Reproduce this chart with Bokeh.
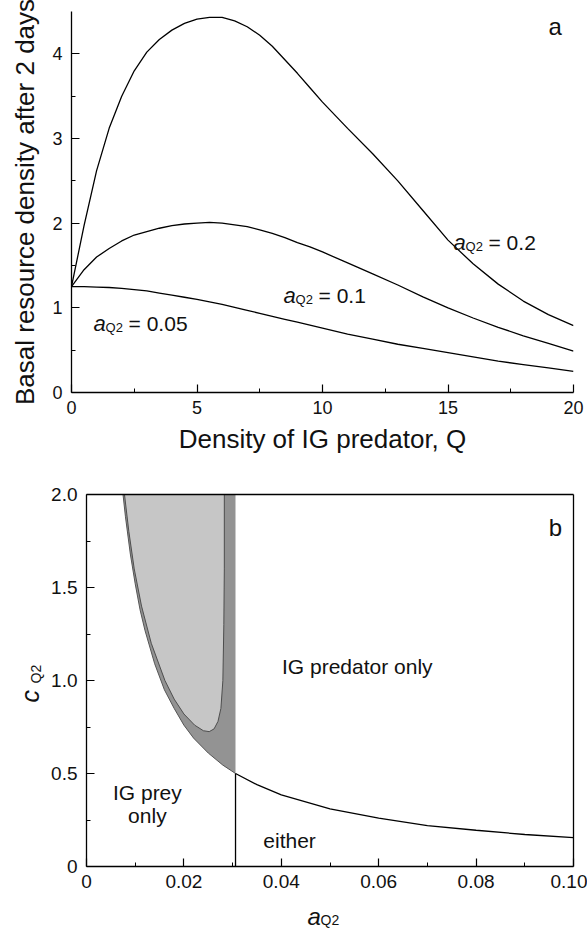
from bokeh.plotting import figure
from bokeh.models import Range1d, FixedTicker, Label, LinearAxis
from bokeh.embed import file_html
from bokeh.resources import INLINE
import math

FONT = "Liberation Sans"
INK = "#111111"

# ---------------- Panel a data ----------------
Q = [0, 0.5, 1, 1.5, 2, 2.5, 3, 3.5, 4, 4.5, 5, 5.5, 6, 6.5, 7, 7.5, 8, 8.5, 9, 9.5, 10,
     11, 12, 13, 14, 15, 16, 17, 18, 19, 20]
R_aQ2_020 = [1.25, 1.97, 2.62, 3.12, 3.5, 3.8, 4.02, 4.17, 4.28, 4.36, 4.41, 4.43, 4.43, 4.39, 4.32, 4.22, 4.09, 3.93, 3.77, 3.6, 3.43,
             3.12, 2.82, 2.5, 2.15, 1.8, 1.52, 1.28, 1.08, 0.92, 0.79]
R_aQ2_010 = [1.25, 1.45, 1.6, 1.7, 1.79, 1.86, 1.9, 1.94, 1.97, 1.99, 2.0, 2.01, 2.0, 1.98, 1.96, 1.92, 1.88, 1.83, 1.77, 1.72, 1.66,
             1.53, 1.4, 1.27, 1.13, 1.0, 0.88, 0.77, 0.67, 0.58, 0.49]
R_aQ2_005 = [1.25, 1.25, 1.245, 1.24, 1.23, 1.215, 1.2, 1.175, 1.15, 1.125, 1.1, 1.07, 1.04, 1.005, 0.97, 0.935, 0.9, 0.865, 0.83, 0.795, 0.76,
             0.69, 0.63, 0.57, 0.52, 0.47, 0.42, 0.37, 0.33, 0.29, 0.25]
a_xticks = [0, 5, 10, 15, 20]
a_xminor = [2.5, 7.5, 12.5, 17.5]
a_yticks = [0, 1, 2, 3, 4]
a_yminor = [0.5, 1.5, 2.5, 3.5]

# ---------------- Panel b data ----------------
a_bnd = [0.0075, 0.008, 0.009, 0.010, 0.011, 0.012, 0.014, 0.016, 0.018, 0.020, 0.022, 0.025, 0.028, 0.0306,
         0.035, 0.04, 0.05, 0.06, 0.07, 0.08, 0.09, 0.10]
c_bnd = [2.0, 1.88, 1.68, 1.52, 1.38, 1.27, 1.09, 0.95, 0.85, 0.76, 0.69, 0.61, 0.545, 0.5,
         0.44, 0.385, 0.31, 0.26, 0.22, 0.195, 0.172, 0.155]
a_switch = 0.0306
c_top = 2.0
light_a = [0.0078, 0.0087, 0.0098, 0.0113, 0.0133, 0.0161, 0.0180, 0.0200, 0.0222, 0.0240, 0.0252,
           0.0262, 0.0270, 0.0276, 0.0280, 0.0282, 0.0283, 0.0283]
light_c = [2.0, 1.8, 1.6, 1.4, 1.2, 1.0, 0.9, 0.82, 0.76, 0.73, 0.725,
           0.74, 0.78, 0.85, 1.0, 1.3, 1.6, 2.0]
b_xticks = [0, 0.02, 0.04, 0.06, 0.08, 0.10]
b_xlabels = ["0", "0.02", "0.04", "0.06", "0.08", "0.10"]
b_xminor = [0.01, 0.03, 0.05, 0.07, 0.09]
b_yticks = [0, 0.5, 1.0, 1.5, 2.0]
b_ylabels = ["0", "0.5", "1.0", "1.5", "2.0"]
b_yminor = [0.25, 0.75, 1.25, 1.75]


def style_axis(ax, tick_size):
    ax.axis_line_color = "black"
    ax.axis_line_width = 1.3
    ax.major_tick_line_color = "black"
    ax.major_tick_line_width = 1.2
    ax.minor_tick_line_color = "black"
    ax.minor_tick_line_width = 1.0
    ax.major_tick_in = 8
    ax.major_tick_out = 0
    ax.minor_tick_in = 4
    ax.minor_tick_out = 0
    ax.major_label_text_font = FONT
    ax.major_label_text_font_size = tick_size
    ax.major_label_text_color = INK
    ax.axis_label_text_font = FONT
    ax.axis_label_text_font_style = "normal"
    ax.axis_label_text_color = INK


# ---------------- Figure a ----------------
W = 587
H1 = 462
p1 = figure(width=W, height=H1, output_backend="svg", toolbar_location=None,
            x_range=Range1d(0, 20), y_range=Range1d(0, 4.5),
            min_border_left=71, min_border_right=14, min_border_top=11, min_border_bottom=70)
p1.outline_line_color = None
p1.xgrid.visible = False
p1.ygrid.visible = False

for R in (R_aQ2_020, R_aQ2_010, R_aQ2_005):
    p1.line(Q, R, line_color="black", line_width=1.3)

p1.xaxis.ticker = FixedTicker(ticks=a_xticks, minor_ticks=a_xminor)
p1.yaxis.ticker = FixedTicker(ticks=a_yticks, minor_ticks=a_yminor)
for ax in list(p1.xaxis) + list(p1.yaxis):
    style_axis(ax, "18px")
p1.xaxis.axis_label = "Density of IG predator, Q"
p1.yaxis.axis_label = "Basal resource density after 2 days"
p1.xaxis.axis_label_text_font_size = "26px"
p1.yaxis.axis_label_text_font_size = "26px"
p1.xaxis.major_label_standoff = 8
p1.yaxis.major_label_standoff = 9
p1.xaxis.axis_label_standoff = 7
p1.yaxis.axis_label_standoff = 9


def curve_label(p, x, y, val):
    p.add_layout(Label(x=x, y=y, text="a", text_font=FONT, text_font_style="italic",
                       text_font_size="22px", text_baseline="alphabetic", text_color=INK))
    p.add_layout(Label(x=x, y=y, x_offset=12, y_offset=-4, text="Q2", text_font=FONT,
                       text_font_size="13px", text_baseline="alphabetic", text_color=INK))
    p.add_layout(Label(x=x, y=y, x_offset=35, text="= " + val, text_font=FONT,
                       text_font_size="21px", text_baseline="alphabetic", text_color=INK))


curve_label(p1, 15.22, 1.77, "0.2")
curve_label(p1, 8.45, 1.146, "0.1")
curve_label(p1, 0.88, 0.815, "0.05")
p1.add_layout(Label(x=19.0, y=4.32, text="a", text_font=FONT, text_font_size="24px",
                    text_baseline="alphabetic", text_color=INK))

# ---------------- Figure b ----------------
# The frame fills the whole canvas; the axes are pinned at data locations so
# that the sub-scripted axis titles can be drawn as ordinary labels.
H2 = 468
px_per_a = 4870.0
px_per_c = 186.0
frame_left_page = 86           # page pixel of a = 0
top2_page = 494                # page pixel of c = 2
x_lo = -frame_left_page / px_per_a
x_hi = x_lo + W / px_per_a
c_hi = c_top + (top2_page - H1) / px_per_c
c_lo = c_hi - H2 / px_per_c

p2 = figure(width=W, height=H2, output_backend="svg", toolbar_location=None,
            x_range=Range1d(x_lo, x_hi), y_range=Range1d(c_lo, c_hi),
            x_axis_location=None, y_axis_location=None,
            min_border_left=0, min_border_right=0, min_border_top=0, min_border_bottom=0)
p2.outline_line_color = None
p2.xgrid.visible = False
p2.ygrid.visible = False

left_idx = [i for i, a in enumerate(a_bnd) if a <= a_switch]
right_idx = [i for i, a in enumerate(a_bnd) if a >= a_switch]
dark_x = [a_bnd[i] for i in left_idx] + [a_switch, a_bnd[0]]
dark_y = [c_bnd[i] for i in left_idx] + [c_top, c_top]
p2.patch(dark_x, dark_y, fill_color="#939393", line_color=None)
p2.line([a_bnd[i] for i in left_idx], [c_bnd[i] for i in left_idx], line_color="#555555", line_width=1)
p2.patch(light_a, light_c, fill_color="#c6c6c6", line_color="#4d4d4d", line_width=1)

c_switch = c_bnd[a_bnd.index(a_switch)]
p2.line([a_bnd[i] for i in right_idx], [c_bnd[i] for i in right_idx], line_color="black", line_width=1.3)
p2.line([a_switch, a_switch], [0, c_switch], line_color="black", line_width=1.3)

x_min, x_max = b_xticks[0], b_xticks[-1]
y_min, y_max = b_yticks[0], b_yticks[-1]

xax = LinearAxis(fixed_location=y_min, bounds=(x_min, x_max),
                 ticker=FixedTicker(ticks=b_xticks, minor_ticks=b_xminor))
xax.major_label_overrides = {t: s for t, s in zip(b_xticks, b_xlabels)}
style_axis(xax, "19px")
xax.major_label_standoff = 8
p2.add_layout(xax, "below")

yax = LinearAxis(fixed_location=x_min, bounds=(y_min, y_max),
                 ticker=FixedTicker(ticks=b_yticks, minor_ticks=b_yminor))
yax.major_label_overrides = {t: s for t, s in zip(b_yticks, b_ylabels)}
style_axis(yax, "19px")
yax.major_label_standoff = 9
p2.add_layout(yax, "left")

for loc, side, bnds in ((y_max, "above", (x_min, x_max)), (x_max, "right", (y_min, y_max))):
    box_ax = LinearAxis(fixed_location=loc, bounds=bnds, ticker=FixedTicker(ticks=[], minor_ticks=[]))
    style_axis(box_ax, "1px")
    box_ax.major_tick_in = 0
    box_ax.minor_tick_in = 0
    box_ax.major_label_text_alpha = 0
    p2.add_layout(box_ax, side)

# region labels
for txt, x, y in (("IG predator only", 0.0556, 1.075), ("IG prey", 0.0125, 0.398),
                  ("only", 0.0125, 0.274), ("either", 0.0417, 0.14)):
    p2.add_layout(Label(x=x, y=y, text=txt, text_font=FONT, text_font_size="21px",
                        text_align="center", text_baseline="alphabetic", text_color=INK))
p2.add_layout(Label(x=0.0949, y=1.823, text="b", text_font=FONT, text_font_size="24px",
                    text_baseline="alphabetic", text_color=INK))

# axis titles with subscripts
p2.add_layout(Label(x=-0.0115, y=0.882, angle=math.pi / 2, text="c", text_font=FONT,
                    text_font_style="italic", text_font_size="25px", text_baseline="alphabetic",
                    text_color=INK))
p2.add_layout(Label(x=-0.01047, y=0.984, angle=math.pi / 2, text="Q2", text_font=FONT,
                    text_font_size="14px", text_baseline="alphabetic", text_color=INK))
p2.add_layout(Label(x=0.04538, y=-0.2688, text="a", text_font=FONT, text_font_style="italic",
                    text_font_size="24px", text_baseline="alphabetic", text_color=INK))
p2.add_layout(Label(x=0.04805, y=-0.2903, text="Q2", text_font=FONT,
                    text_font_size="14px", text_baseline="alphabetic", text_color=INK))

open("out.html", "w").write(file_html([p1, p2], INLINE))
